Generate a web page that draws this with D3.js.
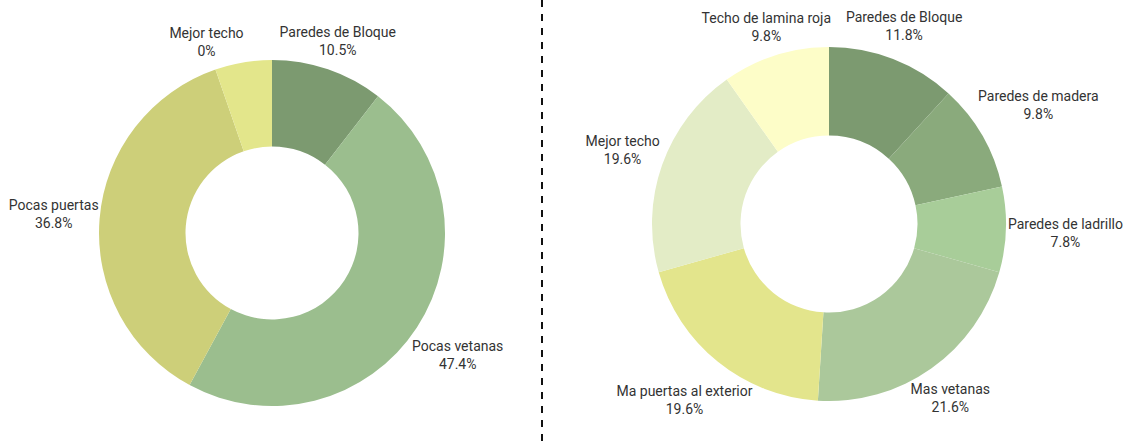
<!DOCTYPE html>
<html>
<head>
<meta charset="utf-8">
<script src="https://cdn.jsdelivr.net/npm/d3@7"></script>
<style>
  html, body { margin: 0; padding: 0; background: #ffffff; }
  svg { display: block; }
</style>
</head>
<body>
<svg id="chart" width="1125" height="443"></svg>
<script>
// ---- data ----
const leftCategories = ["Paredes de Bloque", "Pocas vetanas", "Pocas puertas", "Mejor techo"];
const leftValues = [10.5, 47.4, 36.8, 5.3];
const leftValueLabels = ["10.5%", "47.4%", "36.8%", "0%"];
const leftColors = ["#7c9a70", "#9bbe8e", "#cdcf79", "#e3e68b"];

const rightCategories = ["Paredes de Bloque", "Paredes de madera", "Paredes de ladrillo", "Mas vetanas", "Ma puertas al exterior", "Mejor techo", "Techo de lamina roja"];
const rightValues = [11.8, 9.8, 7.8, 21.6, 19.6, 19.6, 9.8];
const rightValueLabels = ["11.8%", "9.8%", "7.8%", "21.6%", "19.6%", "19.6%", "9.8%"];
const rightColors = ["#7c9a70", "#8aaa7c", "#a8cd99", "#abc89b", "#e3e58c", "#e3ecc6", "#fdfdc8"];

// ---- layout ----
const svg = d3.select("#chart");
const FONT = "Roboto, 'Noto Sans', sans-serif";

function donut(cfg) {
  const g = svg.append("g").attr("transform", `translate(${cfg.cx},${cfg.cy})`);
  const data = cfg.values.map((v, i) => ({ v, i }));
  const pie = d3.pie().value(d => d.v).sort(null).startAngle(0).endAngle(2 * Math.PI);
  const arcs = pie(data);
  const arc = d3.arc().innerRadius(cfg.r * 0.5).outerRadius(cfg.r);

  g.selectAll("path.slice").data(arcs).join("path")
    .attr("class", "slice")
    .attr("d", arc)
    .attr("fill", d => cfg.colors[d.data.i]);

  const labels = g.selectAll("g.lab").data(arcs).join("g").attr("class", "lab");
  labels.each(function (d) {
    const gl = d3.select(this);
    const t1 = gl.append("text").text(cfg.categories[d.data.i]);
    const t2 = gl.append("text").text(cfg.valueLabels[d.data.i]);
    [t1, t2].forEach(t => t
      .attr("text-anchor", "middle")
      .attr("dominant-baseline", "central")
      .attr("font-family", FONT)
      .attr("font-size", 14)
      .attr("fill", "#333"));
    const w = Math.max(t1.node().getComputedTextLength(), t2.node().getComputedTextLength());
    const h = 36;
    const mid = (d.startAngle + d.endAngle) / 2;
    const dx = Math.sin(mid), dy = -Math.cos(mid);
    const ra = cfg.r + cfg.gap;
    const tt = Math.min(Math.abs(dx) > 1e-6 ? (w / 2) / Math.abs(dx) : 1e9,
                        Math.abs(dy) > 1e-6 ? (h / 2) / Math.abs(dy) : 1e9);
    const nudge = (cfg.nudges && cfg.nudges[d.data.i]) || [0, 0];
    const x = dx * (ra + tt) + nudge[0];
    const y = dy * (ra + tt) + nudge[1];
    t1.attr("x", x).attr("y", y - 9);
    t2.attr("x", x).attr("y", y + 9);
  });
}

donut({
  cx: 272, cy: 233, r: 173, gap: 11,
  values: leftValues, categories: leftCategories, valueLabels: leftValueLabels, colors: leftColors,
  nudges: { 1: [4, 3], 2: [10, 0], 3: [-32, 8] }
});

donut({
  cx: 829, cy: 224, r: 177, gap: 11,
  values: rightValues, categories: rightCategories, valueLabels: rightValueLabels, colors: rightColors,
  nudges: { 0: [0, -5], 1: [15, -7], 2: [-9, 1], 3: [0, 3], 4: [-12, 12], 5: [8, 2] }
});

// divider
svg.append("line")
  .attr("x1", 542).attr("x2", 542)
  .attr("y1", 0).attr("y2", 443)
  .attr("stroke", "#111")
  .attr("stroke-width", 2)
  .attr("stroke-dasharray", "7,7");
</script>
</body>
</html>
